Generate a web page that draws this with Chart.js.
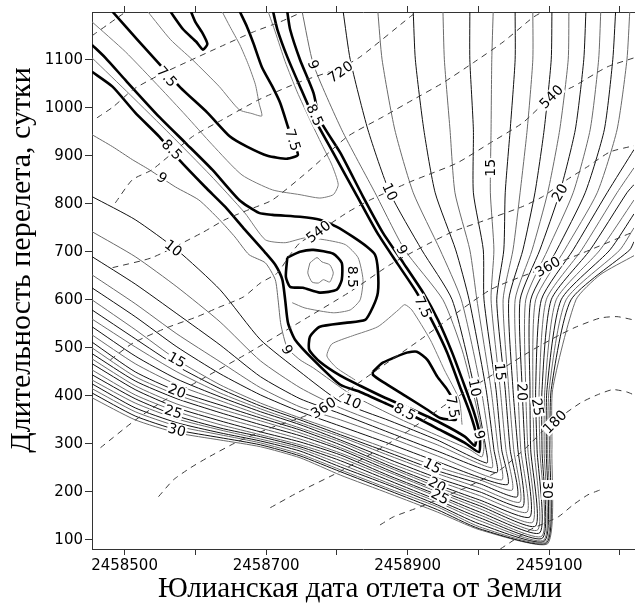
<!DOCTYPE html>
<html><head><meta charset="utf-8">
<script src="https://cdn.jsdelivr.net/npm/chart.js@4.4.0/dist/chart.umd.min.js"></script>
<style>html,body{margin:0;padding:0;background:#fff;overflow:hidden}</style>
</head><body>
<canvas id="c" width="635" height="606"></canvas>
<script>
// ---- axes ----
const xMin = 2458454, xMax = 2459220, yMin = 81, yMax = 1199.5;
const xTitle = 'Юлианская дата отлета от Земли';
const yTitle = 'Длительность перелета, сутки';

// ---- thin contour family (levels 9..31), [departure JD, TOF days] ----
const level9 = [[2458454,944],[2458483,919],[2458511,892],[2458535,871],[2458572,835],[2458605,808],[2458634,767],[2458656,731],[2458676,694],[2458699,677],[2458713,642],[2458717,600],[2458721,548],[2458730,500],[2458748,475],[2458767,458],[2458819,404],[2458889,352],[2458946,315],[2458988,288],[2459005,273],[2459008,298],[2458995,392],[2458977,496],[2458950,600],[2458896,704],[2458854,823],[2458807,954],[2458767,1090],[2458751,1200]];
const level10 = [[2458454,815],[2458515,767],[2458574,704],[2458635,621],[2458692,517],[2458748,450],[2458805,388],[2458875,348],[2458942,308],[2459012,260],[2459011,288],[2458995,413],[2458963,600],[2458920,704],[2458875,823],[2458844,954],[2458819,1100],[2458809,1200]];
const level11 = [[2458454,742],[2458515,690],[2458574,627],[2458635,554],[2458692,473],[2458748,417],[2458805,375],[2458875,335],[2458942,298],[2459019,250],[2459017,288],[2459004,413],[2458976,600],[2458946,704],[2458908,823],[2458882,954],[2458864,1100],[2458858,1200]];
const level12 = [[2458454,690],[2458515,633],[2458574,571],[2458635,506],[2458692,440],[2458748,394],[2458805,363],[2458875,323],[2458942,285],[2459026,240],[2459022,288],[2459011,413],[2458987,600],[2458968,704],[2458939,823],[2458923,954],[2458911,1100],[2458908,1200]];
const level13 = [[2458454,652],[2458515,592],[2458574,529],[2458635,471],[2458692,417],[2458748,377],[2458805,350],[2458875,313],[2458942,275],[2459033,225],[2459028,288],[2459018,413],[2458998,600],[2458988,704],[2458967,823],[2458960,954],[2458952,1100],[2458950,1200]];
const level14 = [[2458454,625],[2458515,565],[2458574,502],[2458635,446],[2458692,402],[2458748,367],[2458805,337],[2458875,300],[2458942,263],[2459041,215],[2459033,288],[2459025,413],[2459008,600],[2459007,704],[2458993,823],[2458993,954],[2458988,1100],[2458988,1200]];
const level15 = [[2458454,600],[2458515,538],[2458574,475],[2458635,423],[2458692,385],[2458748,354],[2458805,325],[2458875,288],[2458942,252],[2459002,225],[2459048,204],[2459039,288],[2459031,413],[2459018,600],[2459022,704],[2459017,823],[2459018,954],[2459019,1100],[2459021,1200]];
const level16 = [[2458454,579],[2458515,519],[2458574,462],[2458635,415],[2458692,379],[2458748,350],[2458805,319],[2458875,281],[2458942,244],[2459002,217],[2459055,190],[2459045,288],[2459038,413],[2459026,600],[2459036,704],[2459038,823],[2459045,954],[2459052,1100],[2459052,1200]];
const level17 = [[2458454,560],[2458515,502],[2458574,450],[2458635,406],[2458692,373],[2458748,344],[2458805,315],[2458875,275],[2458942,238],[2459002,208],[2459059,179],[2459050,288],[2459043,413],[2459035,600],[2459049,704],[2459059,823],[2459069,954],[2459077,1100],[2459077,1200]];
const level18 = [[2458454,544],[2458515,483],[2458574,435],[2458635,398],[2458692,367],[2458748,340],[2458805,308],[2458875,267],[2458942,229],[2459002,200],[2459063,169],[2459056,288],[2459049,413],[2459043,600],[2459063,704],[2459080,823],[2459093,954],[2459103,1100],[2459104,1200]];
const level19 = [[2458454,527],[2458515,467],[2458574,423],[2458635,390],[2458692,360],[2458748,333],[2458805,304],[2458875,260],[2458942,223],[2459002,192],[2459069,158],[2459060,288],[2459056,413],[2459052,600],[2459076,704],[2459098,823],[2459115,954],[2459127,1100],[2459128,1200]];
const level20 = [[2458454,512],[2458515,450],[2458574,410],[2458635,381],[2458692,354],[2458748,329],[2458805,298],[2458875,254],[2458942,215],[2459002,183],[2459073,148],[2459066,288],[2459062,413],[2459059,600],[2459087,704],[2459115,823],[2459137,954],[2459149,1100],[2459152,1200]];
const level21 = [[2458454,500],[2458515,440],[2458574,402],[2458635,373],[2458692,348],[2458748,323],[2458805,292],[2458875,250],[2458942,210],[2459002,177],[2459077,137],[2459070,288],[2459067,413],[2459067,600],[2459098,704],[2459134,823],[2459158,954],[2459170,1100],[2459173,1200]];
const level22 = [[2458454,488],[2458515,431],[2458574,394],[2458635,365],[2458692,340],[2458748,317],[2458805,288],[2458875,244],[2458942,204],[2459002,171],[2459081,129],[2459074,288],[2459073,413],[2459074,600],[2459111,704],[2459151,823],[2459178,954],[2459190,1100],[2459194,1200]];
const level23 = [[2458454,477],[2458515,421],[2458574,383],[2458635,356],[2458692,333],[2458748,310],[2458805,281],[2458875,240],[2458942,200],[2459002,165],[2459084,121],[2459079,288],[2459077,413],[2459081,600],[2459122,704],[2459168,823],[2459196,954],[2459210,1100],[2459214,1200]];
const level24 = [[2458454,467],[2458515,413],[2458574,375],[2458635,348],[2458692,325],[2458748,304],[2458805,277],[2458875,233],[2458942,194],[2459002,158],[2459087,115],[2459083,288],[2459081,413],[2459089,600],[2459134,704],[2459182,823],[2459220,913]];
const level25 = [[2458454,454],[2458515,402],[2458574,367],[2458635,340],[2458692,319],[2458748,298],[2458805,271],[2458875,229],[2458942,190],[2459002,152],[2459090,108],[2459087,288],[2459086,413],[2459096,600],[2459146,704],[2459196,823],[2459220,875]];
const level26 = [[2458454,444],[2458515,394],[2458574,358],[2458635,333],[2458692,315],[2458748,294],[2458805,265],[2458875,223],[2458942,183],[2459002,146],[2459091,104],[2459090,288],[2459090,413],[2459103,600],[2459158,704],[2459210,823],[2459220,840]];
const level27 = [[2458454,433],[2458515,385],[2458574,352],[2458635,329],[2458692,310],[2458748,290],[2458805,258],[2458875,217],[2458942,179],[2459002,140],[2459093,100],[2459093,288],[2459094,413],[2459110,600],[2459172,704],[2459220,808]];
const level28 = [[2458454,425],[2458515,375],[2458574,344],[2458635,323],[2458692,306],[2458748,285],[2458805,252],[2458875,213],[2458942,173],[2459002,133],[2459094,98],[2459096,288],[2459097,413],[2459117,600],[2459186,704],[2459220,779]];
const level29 = [[2458454,415],[2458515,367],[2458574,337],[2458635,319],[2458692,302],[2458748,279],[2458805,246],[2458875,206],[2458942,169],[2459002,127],[2459096,96],[2459098,288],[2459100,413],[2459124,600],[2459200,704],[2459220,750]];
const level30 = [[2458454,406],[2458515,358],[2458574,329],[2458635,313],[2458692,298],[2458748,275],[2458805,242],[2458875,202],[2458942,163],[2459002,123],[2459097,94],[2459101,288],[2459103,413],[2459131,600],[2459214,704],[2459220,721]];
const level31 = [[2458454,396],[2458515,350],[2458574,323],[2458635,308],[2458692,294],[2458748,271],[2458805,235],[2458875,196],[2458942,158],[2459002,121],[2459098,92],[2459104,288],[2459105,413],[2459138,600],[2459172,652],[2459220,692]];
const fanLevels = [9,10,11,12,13,14,15,16,17,18,19,20,21,22,23,24,25,26,27,28,29,30,31];

// ---- thick low-energy contours ----
const thick75a = [[2458483,1200],[2458518,1142],[2458550,1090],[2458579,1042],[2458617,990],[2458649,940],[2458673,919],[2458702,900],[2458730,894],[2458745,902],[2458737,933],[2458731,960],[2458720,1010],[2458709,1044],[2458694,1085],[2458682,1135],[2458673,1169],[2458663,1200]];
const thick75top = [[2458565,1200],[2458583,1163],[2458601,1138],[2458611,1121],[2458617,1133],[2458610,1156],[2458600,1179],[2458594,1200]];
const thickA = [[2458454,1131],[2458473,1104],[2458501,1058],[2458549,981],[2458586,927],[2458624,871],[2458662,808],[2458690,781],[2458709,777],[2458748,773],[2458776,767],[2458800,752],[2458823,731],[2458843,710],[2458854,694],[2458858,663],[2458858,615],[2458851,585],[2458840,558],[2458812,552],[2458776,544],[2458762,523],[2458761,496],[2458776,471],[2458805,442],[2458833,421],[2458868,396],[2458904,373],[2458946,344],[2458981,315],[2458995,296],[2458997,319],[2458988,365],[2458974,419],[2458956,490],[2458936,552],[2458913,615],[2458885,677],[2458857,740],[2458829,815],[2458795,906],[2458767,981],[2458748,1044],[2458730,1106],[2458716,1163],[2458710,1200]];
const thickB = [[2458454,1075],[2458483,1044],[2458515,990],[2458549,940],[2458577,892],[2458614,835],[2458642,794],[2458670,746],[2458699,698],[2458713,673],[2458723,642],[2458727,600],[2458731,552],[2458741,517],[2458767,475],[2458805,423],[2458833,408],[2458868,385],[2458908,358],[2458946,329],[2458981,302],[2459001,283],[2459002,319],[2458994,365],[2458981,419],[2458963,490],[2458943,558],[2458922,615],[2458894,677],[2458865,740],[2458837,815],[2458805,906],[2458776,975],[2458767,1031],[2458748,1100],[2458734,1163],[2458730,1200]];
const island = [[2458730,688],[2458748,700],[2458767,704],[2458795,696],[2458807,677],[2458807,642],[2458800,621],[2458776,615],[2458752,625],[2458734,627],[2458728,648],[2458730,688]];
const inner75 = [[2458851,450],[2458865,469],[2458899,490],[2458913,492],[2458928,475],[2458942,440],[2458956,413],[2458964,392],[2458968,367],[2458968,350],[2458946,354],[2458928,371],[2458899,398],[2458865,429],[2458851,444],[2458851,450]];

// ---- grey intermediate contours ----
const grey1 = [[2458533,1200],[2458565,1142],[2458596,1100],[2458634,1044],[2458662,996],[2458680,988],[2458694,983],[2458690,1010],[2458685,1048],[2458675,1090],[2458663,1131],[2458649,1169],[2458638,1200]];
const grey3 = [[2458454,1179],[2458501,1117],[2458550,1042],[2458586,985],[2458624,923],[2458666,860],[2458709,829],[2458748,819],[2458776,812],[2458795,819],[2458802,840],[2458793,881],[2458779,923],[2458762,975],[2458744,1033],[2458727,1096],[2458713,1158],[2458703,1200]];
const grey5 = [[2458977,340],[2458973,392],[2458952,454],[2458932,517],[2458906,579],[2458896,590],[2458887,579],[2458858,544],[2458822,525],[2458793,508],[2458786,483],[2458800,458],[2458826,433]];
const grey6 = [[2458454,1104],[2458508,1027],[2458565,944],[2458621,860],[2458670,781],[2458699,725],[2458727,719],[2458755,729],[2458783,725],[2458812,715],[2458830,688],[2458837,642],[2458833,600],[2458819,579],[2458795,573],[2458755,583],[2458737,594]];
const islandInner = [[2458762,677],[2458772,688],[2458779,679],[2458790,673],[2458795,656],[2458790,637],[2458781,642],[2458774,635],[2458765,637],[2458759,656],[2458762,677]];

// ---- dashed transfer-angle lines ----
const dash90 = [[2459031,81],[2459073,121],[2459113,148],[2459134,173],[2459155,194],[2459172,204]];
const dash180 = [[2458861,131],[2458880,148],[2458918,169],[2458984,210],[2459031,246],[2459069,294],[2459097,335],[2459144,385],[2459168,402],[2459190,413],[2459210,408],[2459220,402]];
const dash270 = [[2458706,167],[2458744,198],[2458809,246],[2458889,315],[2458960,388],[2459031,454],[2459077,496],[2459115,527],[2459139,544],[2459172,562],[2459196,565],[2459220,558]];
const dash360 = [[2458548,190],[2458569,225],[2458593,250],[2458617,271],[2458659,304],[2458706,333],[2458748,354],[2458781,375],[2458847,444],[2458918,517],[2459017,621],[2459098,669],[2459148,698],[2459220,742]];
const dash450 = [[2458466,292],[2458512,346],[2458550,385],[2458607,433],[2458678,492],[2458748,554],[2458819,617],[2458875,673],[2458918,708],[2458964,742],[2459012,767],[2459062,794],[2459091,815],[2459125,850],[2459154,877],[2459186,908],[2459220,921]];
const dash540 = [[2458480,475],[2458512,510],[2458560,542],[2458603,565],[2458631,583],[2458668,606],[2458692,635],[2458716,656],[2458734,694],[2458748,719],[2458774,742],[2458816,783],[2458847,808],[2458904,846],[2458928,860],[2458970,885],[2459017,927],[2459063,969],[2459103,1023],[2459134,1044],[2459182,1085],[2459220,1104]];
const dash630 = [[2458483,667],[2458539,688],[2458610,740],[2458642,767],[2458676,788],[2458709,808],[2458762,871],[2458815,940],[2458865,981],[2458908,1017],[2458950,1052],[2458993,1094],[2459035,1137],[2459077,1188],[2459091,1200]];
const dash720 = [[2458487,802],[2458511,850],[2458539,871],[2458596,940],[2458638,975],[2458690,1017],[2458748,1054],[2458805,1083],[2458833,1106],[2458904,1190],[2458913,1200]];
const dash810 = [[2458461,979],[2458484,1002],[2458512,1038],[2458550,1069],[2458589,1096],[2458635,1127],[2458682,1158],[2458720,1179],[2458752,1200]];
const dash900 = [[2458454,1150],[2458476,1173],[2458498,1196]];

// ---- contour labels ----
const labelText = ['7.5','7.5','8.5','9','10','15','20','25','30','9','720','8.5','540','8.5','9','10','15','20','540','360','7.5','9','7.5','10','15','20','25','180','9','30','15','20','25','360','10','8.5'];
const labelPos = [[2458560,1065],[2458738,933],[2458567,913],[2458553,854],[2458569,708],[2458574,475],[2458574,410],[2458569,367],[2458574,329],[2458767,1090],[2458805,1075],[2458769,985],[2458774,742],[2458823,648],[2458892,704],[2458875,825],[2459017,875],[2459115,823],[2459103,1023],[2459098,669],[2458922,585],[2458730,496],[2458964,377],[2458995,417],[2459031,450],[2459062,408],[2459084,377],[2459108,346],[2459002,319],[2459098,204],[2458935,254],[2458942,215],[2458946,190],[2458781,375],[2458822,388],[2458896,367]];
const labelAngle = [48,72,45,35,38,30,22,17,15,70,-35,65,-38,90,60,65,-90,-60,-45,-30,65,60,80,78,85,88,80,-45,75,90,28,28,28,-33,25,28];

// ---- build datasets ----
const fan = [level9,level10,level11,level12,level13,level14,level15,level16,level17,level18,level19,level20,level21,level22,level23,level24,level25,level26,level27,level28,level29,level30,level31];
const mk = (pts, color, w, dash) => ({
  data: pts.map(p => ({x: p[0], y: p[1]})),
  borderColor: color, borderWidth: w, borderDash: dash || [],
  pointRadius: 0, pointHoverRadius: 0, fill: false, tension: 0.2
});
const datasets = [];
[dash90,dash180,dash270,dash360,dash450,dash540,dash630,dash720,dash810,dash900].forEach(d => datasets.push(mk(d, '#3c3c3c', 1, [6,5])));
[thick75a,thick75top,thickA,thickB,island,inner75].forEach(d => datasets.push(mk(d, '#000', 2.6)));
[grey1,grey3,grey5,grey6,islandInner].forEach(d => datasets.push(mk(d, '#7a7a7a', 1)));
fan.forEach((d,i) => datasets.push(mk(d, fanLevels[i] % 2 ? '#6a6a6a' : '#111', 1)));

const labelPlugin = {
  id: 'clabels',
  afterDatasetsDraw(chart) {
    const {ctx} = chart; const xs = chart.scales.x, ys = chart.scales.y;
    ctx.save();
    ctx.font = '14px "DejaVu Sans"';
    ctx.textAlign = 'center'; ctx.textBaseline = 'middle';
    labelText.forEach((t, i) => {
      const px = xs.getPixelForValue(labelPos[i][0]);
      const py = ys.getPixelForValue(labelPos[i][1]);
      ctx.save(); ctx.translate(px, py); ctx.rotate(labelAngle[i] * Math.PI / 180);
      const w = ctx.measureText(t).width;
      ctx.fillStyle = '#fff'; ctx.fillRect(-w/2 - 1, -6.5, w + 2, 13);
      ctx.fillStyle = '#000'; ctx.fillText(t, 0, 1);
      ctx.restore();
    });
    ctx.restore();
  }
};
const titlePlugin = {
  id: 'titles',
  afterDraw(chart) {
    const ctx = chart.ctx;
    ctx.save();
    ctx.fillStyle = '#000';
    ctx.textAlign = 'center'; ctx.textBaseline = 'alphabetic';
    ctx.font = '29px "Liberation Serif"';
    ctx.fillText(xTitle, 360, 597);
    ctx.font = '30px "Liberation Serif"';
    ctx.translate(30, 260); ctx.rotate(-Math.PI / 2);
    ctx.fillText(yTitle, 0, 0);
    ctx.restore();
  }
};

const tickFont = {family: 'DejaVu Sans', size: 15};
new Chart(document.getElementById('c'), {
  type: 'line',
  data: { datasets },
  options: {
    responsive: false, animation: false, events: [],
    layout: { padding: {left: 0, right: 1, top: 0, bottom: 0} },
    plugins: { legend: {display: false}, tooltip: {enabled: false} },
    scales: {
      x: {
        type: 'linear', position: 'bottom', min: xMin, max: xMax,
        afterFit(s){ s.height = 57; },
        ticks: { stepSize: 100, maxTicksLimit: 50, autoSkip: false, maxRotation: 0, includeBounds: false, padding: 2, color: '#000', font: tickFont,
          callback: v => ((v - 2458500) % 200 === 0 ? String(v) : '') },
        grid: { drawOnChartArea: false, drawTicks: true, tickLength: 6, color: '#333' },
        border: { color: '#333', width: 1 }
      },
      x2: {
        type: 'linear', position: 'top', min: xMin, max: xMax,
        afterFit(s){ s.height = 12; },
        ticks: { stepSize: 100, maxTicksLimit: 50, autoSkip: false, includeBounds: false, padding: 0, callback: () => '' },
        grid: { drawOnChartArea: false, drawTicks: true, tickLength: 6, color: '#333' },
        border: { color: '#333', width: 1 }
      },
      y: {
        type: 'linear', min: yMin, max: yMax,
        afterFit(s){ s.width = 92; },
        ticks: { stepSize: 100, maxTicksLimit: 50, includeBounds: false, padding: 2, color: '#000', font: tickFont,
          callback: v => (v <= 1100 ? String(v) : '') },
        grid: { drawOnChartArea: false, drawTicks: true, tickLength: 7, color: '#333' },
        border: { color: '#333', width: 1 }
      }
    }
  },
  plugins: [labelPlugin, titlePlugin]
});
</script>
</body></html>
